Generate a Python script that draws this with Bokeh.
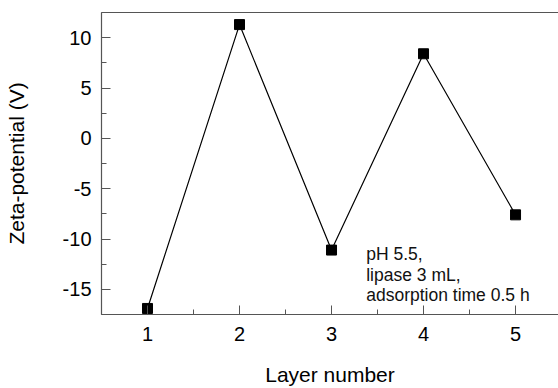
from bokeh.plotting import figure
from bokeh.models import FixedTicker, LinearAxis, Label, Range1d
from bokeh.embed import file_html
from bokeh.resources import INLINE

layers = [1, 2, 3, 4, 5]
zeta = [-16.9, 11.3, -11.1, 8.4, -7.6]
x_ticks = [1, 2, 3, 4, 5]
x_minor = [0.5, 1.5, 2.5, 3.5, 4.5, 5.5]
y_ticks = [-15, -10, -5, 0, 5, 10]
y_tick_labels = ["-15", "-10", "-5", "0", "5", "10"]
y_minor = [-17.5, -12.5, -7.5, -2.5, 2.5, 7.5, 12.5]
note_lines = ["pH 5.5,", "lipase 3 mL,", "adsorption time 0.5 h"]

FONT = "Liberation Sans"
AX = "#555555"

p = figure(width=558, height=388, output_backend="svg", toolbar_location=None,
           x_range=Range1d(0.5, 5.467), y_range=Range1d(-17.5, 12.5),
           min_border_left=101, min_border_top=12, min_border_bottom=70, min_border_right=0)
p.outline_line_color = None
p.grid.grid_line_color = None
p.background_fill_color = "white"
p.border_fill_color = "white"

p.line(layers, zeta, line_color="black", line_width=1.2)
p.scatter(layers, zeta, marker="square", size=10, fill_color="black", line_color="black")

for ax in (p.xaxis[0], p.yaxis[0]):
    ax.axis_line_color = AX
    ax.axis_line_width = 1.2
    ax.major_tick_line_color = AX
    ax.minor_tick_line_color = AX
    ax.major_tick_in = 9
    ax.major_tick_out = 0
    ax.minor_tick_in = 5
    ax.minor_tick_out = 0
    ax.major_label_text_font = FONT
    ax.major_label_text_font_size = "20px"
    ax.major_label_text_color = "black"
    ax.axis_label_text_font = FONT
    ax.axis_label_text_font_size = "21px"
    ax.axis_label_text_font_style = "normal"
    ax.axis_label_text_color = "black"

xa = p.xaxis[0]
xa.ticker = FixedTicker(ticks=x_ticks, minor_ticks=x_minor)
xa.axis_label = "Layer number"
xa.major_label_standoff = 12
xa.axis_label_standoff = 19

ya = p.yaxis[0]
ya.ticker = FixedTicker(ticks=y_ticks, minor_ticks=y_minor)
ya.major_label_overrides = {t: l for t, l in zip(y_ticks, y_tick_labels)}
ya.axis_label = "Zeta-potential (V)"
ya.major_label_standoff = 10
ya.axis_label_standoff = 32

top = LinearAxis(ticker=FixedTicker(ticks=[], minor_ticks=[]),
                 major_tick_line_color=None, minor_tick_line_color=None,
                 axis_line_color=AX, axis_line_width=1.2,
                 major_tick_in=0, major_tick_out=0, minor_tick_in=0, minor_tick_out=0)
p.add_layout(top, "above")

note_y = [-11.52, -13.53, -15.54]
for txt, yy in zip(note_lines, note_y):
    p.add_layout(Label(x=3.377, y=yy, text=txt, text_font=FONT, text_font_size="17.5px",
                       text_color="#111111", text_baseline="alphabetic"))

open("out.html", "w").write(file_html(p, INLINE))
